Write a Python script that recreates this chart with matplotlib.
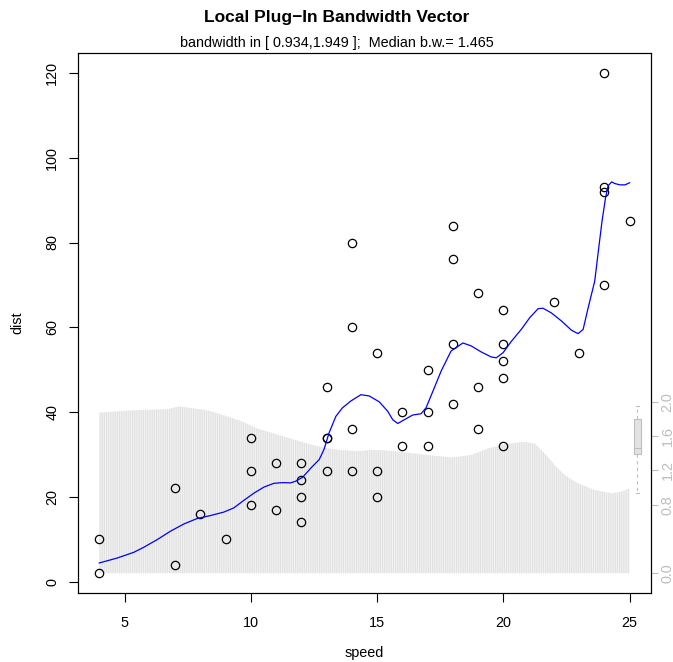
import numpy as np
import matplotlib
matplotlib.use("Agg")
from matplotlib import pyplot as plt

plt.rcParams['font.family'] = ['Liberation Sans', 'DejaVu Sans']
plt.rcParams['hatch.linewidth'] = 0.6

# cars data
speed = [4, 4, 7, 7, 8, 9, 10, 10, 10, 11, 11, 12, 12, 12, 12, 13, 13, 13, 13, 14, 14, 14, 14,
         15, 15, 15, 16, 16, 17, 17, 17, 18, 18, 18, 18, 19, 19, 19, 20, 20, 20, 20, 20,
         22, 23, 24, 24, 24, 24, 25]
dist = [2, 10, 4, 22, 16, 10, 18, 26, 34, 17, 28, 14, 20, 24, 28, 26, 34, 34, 46, 26, 36, 60, 80,
        20, 26, 54, 32, 40, 32, 40, 50, 42, 56, 76, 84, 36, 46, 68, 32, 48, 52, 56, 64,
        66, 54, 70, 92, 93, 120, 85]

# local plug-in fit
fit_x = [4.0, 4.70, 5.36, 5.76, 6.29, 6.82, 7.35, 7.88, 8.41, 8.93, 9.33, 9.73, 10.13, 10.52,
         10.92, 11.25, 11.58, 11.78, 12.05, 12.38, 12.71, 12.9, 13.1, 13.37, 13.63, 13.96,
         14.36, 14.69, 15.09, 15.42, 15.62, 15.82, 16.08, 16.41, 16.74, 16.94, 17.21, 17.54,
         17.93, 18.4, 18.73, 19.12, 19.52, 19.72, 19.99, 20.32, 20.71, 21.05, 21.38, 21.57,
         21.90, 22.30, 22.70, 22.96, 23.16, 23.36, 23.62, 23.78, 23.91, 24.05, 24.15, 24.29,
         24.42, 24.62, 24.82, 25.0]
fit_y = [4.4, 5.55, 6.9, 8.1, 9.9, 11.9, 13.6, 14.9, 15.6, 16.4, 17.4, 19.2, 20.9, 22.3,
         23.2, 23.35, 23.3, 23.7, 24.6, 26.8, 28.8, 31.2, 35.1, 39.0, 41.0, 42.6,
         44.1, 43.8, 42.4, 40.2, 38.2, 37.3, 38.2, 39.3, 39.6, 41.0, 44.9, 49.7,
         54.4, 56.3, 55.6, 54.2, 53.0, 52.8, 54.0, 56.7, 59.5, 62.3, 64.4, 64.5,
         63.4, 61.5, 59.3, 58.5, 59.5, 64.6, 70.9, 78.8, 85.1, 90.6, 93.4, 94.3,
         93.9, 93.6, 93.6, 94.1]

# local bandwidths
bw_x = [4.0, 4.96, 5.76, 6.69, 7.15, 7.61, 8.28, 8.93, 9.6, 10.26, 10.92, 11.58, 12.25, 12.9,
        13.57, 14.23, 14.76, 15.16, 15.95, 17.0, 17.93, 18.73, 19.39, 20.05, 20.84, 21.24,
        21.64, 22.03, 22.43, 22.96, 23.62, 24.29, 24.68, 25.0]
bw = [1.877, 1.896, 1.908, 1.916, 1.949, 1.931, 1.904, 1.846, 1.78, 1.69, 1.632, 1.573, 1.515,
      1.465, 1.438, 1.426, 1.438, 1.438, 1.418, 1.38, 1.352, 1.38, 1.457, 1.508, 1.535, 1.515,
      1.40, 1.263, 1.147, 1.049, 0.972, 0.934, 0.952, 0.991]

# summary of bandwidths for the side boxplot
bw_stats = dict(med=1.465, q1=1.39, q3=1.80, whislo=0.934, whishi=1.949)
bw_ticks = [0.0, 0.8, 1.2, 1.6, 2.0]

grey = '#bebebe'
fs = 10.4

fig = plt.figure(figsize=(6.73, 6.62), dpi=100)
ax = fig.add_axes([0.116, 0.104, 0.851, 0.816])
ax2 = ax.twinx()
ax.set_zorder(ax2.get_zorder() + 1)
ax.patch.set_visible(False)

# bandwidth profile, drawn in the lower part via its own scale
ymax = 3 * max(bw)
ax2.set_ylim(-0.04 * ymax, 1.04 * ymax)
ax2.fill_between(bw_x, 0, bw, facecolor='#f3f3f3', edgecolor='#dedede', hatch='|' * 9, lw=0)
ax2.bxp([bw_stats], positions=[25.3], widths=0.28, showfliers=False, patch_artist=True,
        manage_ticks=False,
        boxprops=dict(facecolor='#e2e2e2', edgecolor=grey, lw=0.8),
        medianprops=dict(color=grey, lw=0.8),
        whiskerprops=dict(color=grey, lw=0.8, ls=(0, (3, 3))),
        capprops=dict(color=grey, lw=0.8), capwidths=0.12)
ax2.set_yticks(bw_ticks)
ax2.set_yticklabels(['%.1f' % t for t in bw_ticks], rotation=90, va='center', color=grey, fontsize=fs)
ax2.tick_params(axis='y', colors=grey, length=5, pad=2)

ax.plot(speed, dist, 'o', mfc='none', mec='black', ms=6, mew=0.9)
ax.plot(fit_x, fit_y, color='blue', lw=0.9)

xr = max(speed) - min(speed)
yr = max(dist) - min(dist)
ax.set_xlim(min(speed) - 0.04 * xr, max(speed) + 0.04 * xr)
ax.set_ylim(min(dist) - 0.04 * yr, max(dist) + 0.04 * yr)
ax.set_xticks([5, 10, 15, 20, 25])
ax.set_yticks([0, 20, 40, 60, 80, 100, 120])
for lab in ax.get_yticklabels():
    lab.set_rotation(90)
    lab.set_va('center')
ax.tick_params(labelsize=fs, length=6.5, width=0.8)
ax.tick_params(axis='x', pad=10)
ax.tick_params(axis='y', pad=7)
ax.set_xlabel('speed', fontsize=fs, va='center')
ax.set_ylabel('dist', fontsize=fs, va='center')
ax.xaxis.set_label_coords(0.5, -0.111)
ax.yaxis.set_label_coords(-0.106, 0.5)
for s in ax.spines.values():
    s.set_linewidth(0.8)
for s in ax2.spines.values():
    s.set_linewidth(0.8)

fig.text(0.5, 0.974, 'Local Plug\u2212In Bandwidth Vector', ha='center', va='center',
         fontsize=12.5, fontweight='bold')
fig.text(0.5, 0.935, 'bandwidth in [ 0.934,1.949 ];  Median b.w.= 1.465', ha='center',
         va='center', fontsize=10.4)

fig.savefig('out.png', dpi=100)
